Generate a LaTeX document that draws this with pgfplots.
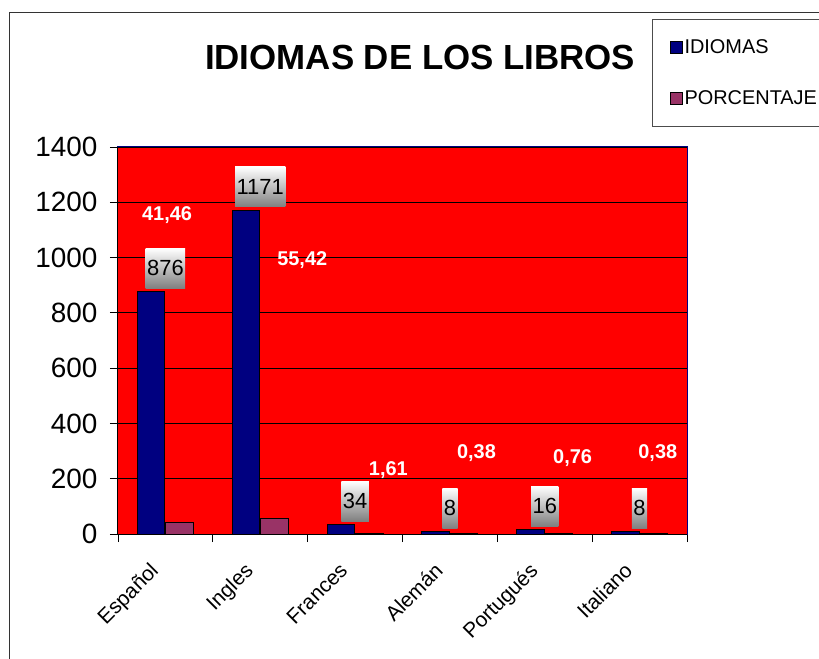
\documentclass[border=0pt]{standalone}
\usepackage{pgfplots}
\pgfplotsset{compat=1.18}
\usepackage{pgfplotstable}
\usepackage{fontspec}
\setmainfont{Liberation Sans}
\definecolor{barblue}{RGB}{0,0,128}
\definecolor{barpink}{RGB}{153,51,102}
\definecolor{bgred}{RGB}{255,0,0}
\pgfplotstableread{
x y
0 876
1 1171
2 34
3 8
4 16
5 8
}\idiomas
\pgfplotstableread{
x y
0 41.46
1 55.42
2 1.61
3 0.38
4 0.76
5 0.38
}\porcentaje
\pgfplotstableread{
x y lab
0.017 1154 41,46
1.443 991 55,42
2.351 232 1,61
3.280 293 0,38
4.294 275 0,76
5.192 293 0,38
}\porclabels
\begin{document}
\begin{tikzpicture}
\useasboundingbox (-118bp,-125bp) rectangle (701bp,534bp);
\draw[line width=1bp, black!80] (-108bp,-140bp) -- (-108bp,521bp) -- (720bp,521bp);
\begin{axis}[
  at={(0,0)}, anchor=south west,
  scale only axis, width=569bp, height=387bp,
  xmin=-0.5, xmax=5.5, ymin=0, ymax=1400,
  xtick={-0.5,0.5,1.5,2.5,3.5,4.5,5.5},
  x tick label as interval,
  xticklabels={Español,Ingles,Frances,Alemán,Portugués,Italiano},
  ytick={0,200,...,1400},
  xtick pos=left, ytick pos=left,
  ymajorgrids, major grid style={black, line width=0.8bp},
  tick align=outside, major tick length=8bp,
  tick style={black, line width=0.8bp},
  axis background/.style={fill=bgred},
  axis line style={barblue, line width=1bp},
  /pgf/number format/assume math mode=true,
  /pgf/number format/1000 sep={},
  yticklabel style={font=\fontsize{28}{32}\selectfont, xshift=-9bp},
  xticklabel style={font=\fontsize{21}{25}\selectfont, rotate=45, anchor=north east, xshift=-22bp, yshift=1.5bp},
  title={IDIOMAS DE LOS LIBROS},
  title style={at={(axis description cs:0.531,1.217)}, anchor=center, font=\bfseries\fontsize{35}{40}\selectfont},
  legend style={at={(axis description cs:0.9385,1.331)}, anchor=north west,
    draw=black!70, line width=1bp, fill=white,
    font=\fontsize{20}{24}\selectfont, inner xsep=17bp, inner ysep=18bp,
    row sep=32bp, nodes={inner xsep=2bp}},
  legend cell align=left,
  after end axis/.code={\draw[black, line width=1bp] (rel axis cs:0,1) -- (rel axis cs:0,0) -- (rel axis cs:1,0);},
]
\addplot[ybar, bar width=0.29, bar shift=-0.15, fill=barblue, draw=black, line width=1bp,
  legend image code/.code={\draw[fill=barblue, draw=black, line width=1bp] (0bp,-6bp) rectangle (12bp,6bp);},
  nodes near coords,
  nodes near coords style={anchor=south, yshift=3bp, top color=white, bottom color=black!50,
    inner xsep=1.5bp, minimum height=40bp, font=\fontsize{22}{26}\selectfont, text=black}]
  table[x=x, y=y] {\idiomas};
\addlegendentry{IDIOMAS}
\addplot[ybar, bar width=0.29, bar shift=0.15, fill=barpink, draw=black, line width=1bp,
  legend image code/.code={\draw[fill=barpink, draw=black, line width=1bp] (0bp,-6bp) rectangle (12bp,6bp);}]
  table[x=x, y=y] {\porcentaje};
\addlegendentry{PORCENTAJE}
\addplot[draw=none, forget plot, nodes near coords, point meta=explicit symbolic,
  nodes near coords style={anchor=center, text=white, font=\bfseries\fontsize{20}{24}\selectfont}]
  table[x=x, y=y, meta=lab] {\porclabels};
\end{axis}
\end{tikzpicture}
\end{document}
